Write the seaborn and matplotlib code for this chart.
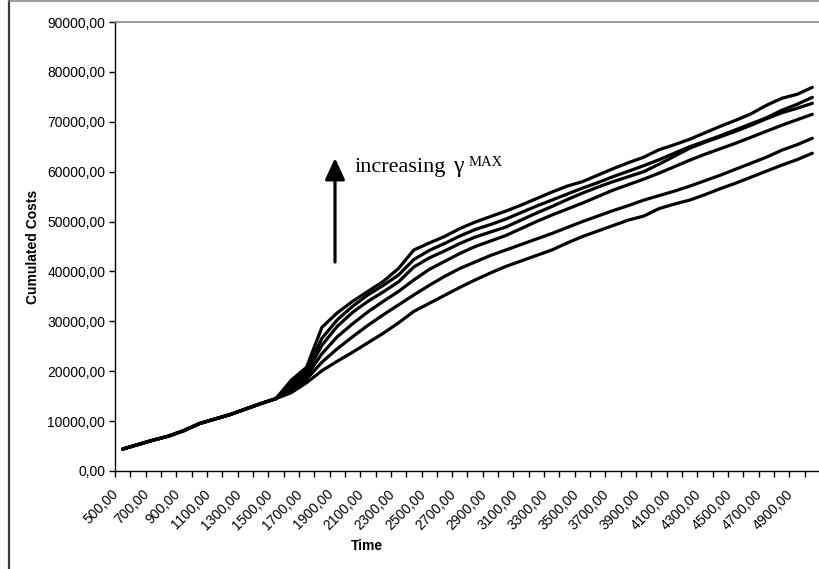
import matplotlib
matplotlib.use("Agg")
import matplotlib.pyplot as plt
import matplotlib.transforms as mtransforms
from matplotlib.lines import Line2D
from matplotlib.ticker import FuncFormatter, MultipleLocator, FixedLocator
import seaborn as sns
import pandas as pd

# Time axis (categories) and cumulated cost series
time_points = list(range(500, 5001, 100))

# identical for all runs up to t = 1500
early_costs = [4400, 5300, 6200, 7000, 8100, 9500, 10400, 11300, 12400, 13500, 14500]

# t = 1600 ... 5000, from the largest gamma^MAX (top) to the smallest (bottom)
costs_g1 = [18200, 20800, 28800, 31700, 34000, 36000, 38000, 40600, 44300, 45700,
            47000, 48600, 49900, 51000, 52100, 53300, 54600, 55900, 57100, 58000,
            59300, 60600, 61800, 62900, 64400, 65400, 66500, 67800, 69100, 70300,
            71600, 73300, 74700, 75500, 76900]
costs_g2 = [17500, 20100, 26600, 30300, 33000, 35300, 37200, 39300, 42400, 44200,
            45600, 47100, 48400, 49400, 50500, 51800, 53100, 54300, 55500, 56700,
            57800, 59000, 60100, 61200, 62400, 63700, 65000, 66100, 67200, 68400,
            69600, 70800, 72300, 73500, 74900]
costs_g3 = [17000, 19600, 25200, 29000, 31800, 34000, 35900, 37900, 40900, 42700,
            44100, 45600, 46900, 47900, 48900, 50300, 51700, 53000, 54400, 55700,
            56900, 58000, 59000, 60000, 61500, 63100, 64700, 65900, 67000, 68100,
            69300, 70600, 71800, 72700, 73700]
costs_g4 = [16600, 19000, 23500, 26900, 29500, 31900, 34000, 36000, 38300, 40400,
            42000, 43600, 45000, 46100, 47200, 48600, 50000, 51300, 52500, 53700,
            55000, 56300, 57400, 58500, 59700, 61000, 62300, 63500, 64600, 65700,
            66900, 68100, 69300, 70400, 71500]
costs_g5 = [16200, 18400, 21800, 24500, 26900, 29200, 31300, 33300, 35300, 37200,
            39000, 40600, 41900, 43200, 44300, 45400, 46500, 47600, 48800, 50000,
            51100, 52200, 53200, 54300, 55200, 56100, 57100, 58200, 59300, 60500,
            61700, 62900, 64300, 65400, 66700]
costs_g6 = [15700, 17700, 20100, 22000, 23800, 25700, 27600, 29700, 32000, 33600,
            35200, 36800, 38300, 39700, 41000, 42100, 43200, 44300, 45700, 47000,
            48100, 49200, 50300, 51100, 52600, 53500, 54300, 55400, 56600, 57700,
            58900, 60100, 61300, 62400, 63700]

series = {"g1": costs_g1, "g2": costs_g2, "g3": costs_g3,
          "g4": costs_g4, "g5": costs_g5, "g6": costs_g6}

y_ticks = list(range(0, 90001, 10000))
x_label_values = list(range(500, 4901, 200))

rows = []
for name, tail in series.items():
    for t, c in zip(time_points, early_costs + tail):
        rows.append({"Time": t, "Cost": c, "run": name})
df = pd.DataFrame(rows)

sns.set_theme(style="white")
plt.rcParams["font.family"] = ["Liberation Sans", "DejaVu Sans"]

W, H = 820, 569
fig = plt.figure(figsize=(W / 100, H / 100), dpi=100)
ax_left, ax_right, ax_top, ax_bottom = 115, 820, 22, 471
ax_w, ax_h = ax_right - ax_left, ax_bottom - ax_top
ax = fig.add_axes([ax_left / W, 1 - ax_bottom / H, ax_w / W, ax_h / H])

sns.lineplot(data=df, x="Time", y="Cost", hue="run", palette=["black"] * 6,
             legend=False, ax=ax, linewidth=2.3, sort=False)
for ln in ax.lines:
    ln.set_solid_joinstyle("round")
    ln.set_solid_capstyle("round")

ax.set_xlim(450, 5050)
ax.set_ylim(0, 90000)

comma_fmt = FuncFormatter(lambda v, p: f"{v:.2f}".replace(".", ","))

# y axis
ax.yaxis.set_major_locator(FixedLocator(y_ticks))
ax.yaxis.set_major_formatter(comma_fmt)
ax.tick_params(axis="y", which="major", direction="out", length=4, width=1,
               color="black", labelsize=10, pad=3, left=True, labelcolor="black")

# x axis: tick marks on category boundaries, labels on every second category
ax.xaxis.set_minor_locator(MultipleLocator(100, offset=50))
ax.xaxis.set_major_locator(FixedLocator(x_label_values))
ax.xaxis.set_major_formatter(comma_fmt)
ax.tick_params(axis="x", which="minor", direction="out", length=4, width=1,
               color="black", bottom=True)
ax.tick_params(axis="x", which="major", length=0, labelsize=10, pad=15,
               labelcolor="black")
shift = mtransforms.ScaledTranslation(-6 / 100, 0, fig.dpi_scale_trans)
for lab in ax.get_xticklabels():
    lab.set_rotation(45)
    lab.set_ha("right")
    lab.set_va("center")
    lab.set_rotation_mode("anchor")
    lab.set_transform(lab.get_transform() + shift)

ax.set_xlabel("Time", fontsize=10, fontweight="bold", color="black")
ax.set_ylabel("Cumulated Costs", fontsize=10, fontweight="bold", color="black")
ax.xaxis.set_label_coords((367 - ax_left) / ax_w, (ax_bottom - 539) / ax_h)
ax.yaxis.set_label_coords((40 - ax_left) / ax_w, 0.5)

# plot area frame
for side in ("left", "bottom"):
    ax.spines[side].set_color("black")
    ax.spines[side].set_linewidth(1)
ax.spines["top"].set_color("#8a8a8a")
ax.spines["top"].set_linewidth(1.2)
ax.spines["right"].set_visible(False)

# arrow and its caption
ax.annotate("", xy=((335 - ax_left) / ax_w, (ax_bottom - 158) / ax_h),
            xytext=((335 - ax_left) / ax_w, (ax_bottom - 262) / ax_h),
            xycoords="axes fraction", textcoords="axes fraction",
            arrowprops=dict(arrowstyle="-|>,head_length=0.65,head_width=0.3",
                            mutation_scale=20, lw=2.3, color="black",
                            shrinkA=0, shrinkB=0))
serif = ["Liberation Serif", "DejaVu Serif"]
ax.text((355 - ax_left) / ax_w, (ax_bottom - 172) / ax_h, "increasing",
        transform=ax.transAxes, family=serif, fontsize=16,
        va="baseline", ha="left", color="black")
ax.text((453 - ax_left) / ax_w, (ax_bottom - 172) / ax_h, "γ",
        transform=ax.transAxes, family=serif, fontsize=17,
        va="baseline", ha="left", color="black")
ax.text((469 - ax_left) / ax_w, (ax_bottom - 166) / ax_h, "MAX",
        transform=ax.transAxes, family=serif, fontsize=10.5,
        va="baseline", ha="left", color="black")

# chart area border
fig.add_artist(Line2D([8.5 / W, 8.5 / W], [0, 1], transform=fig.transFigure,
                      color="#3a3a3a", lw=1.6))
fig.add_artist(Line2D([8.5 / W, 1], [1 - 0.8 / H, 1 - 0.8 / H], transform=fig.transFigure,
                      color="#8a8a8a", lw=1.2))

fig.savefig("out.png", dpi=100)
